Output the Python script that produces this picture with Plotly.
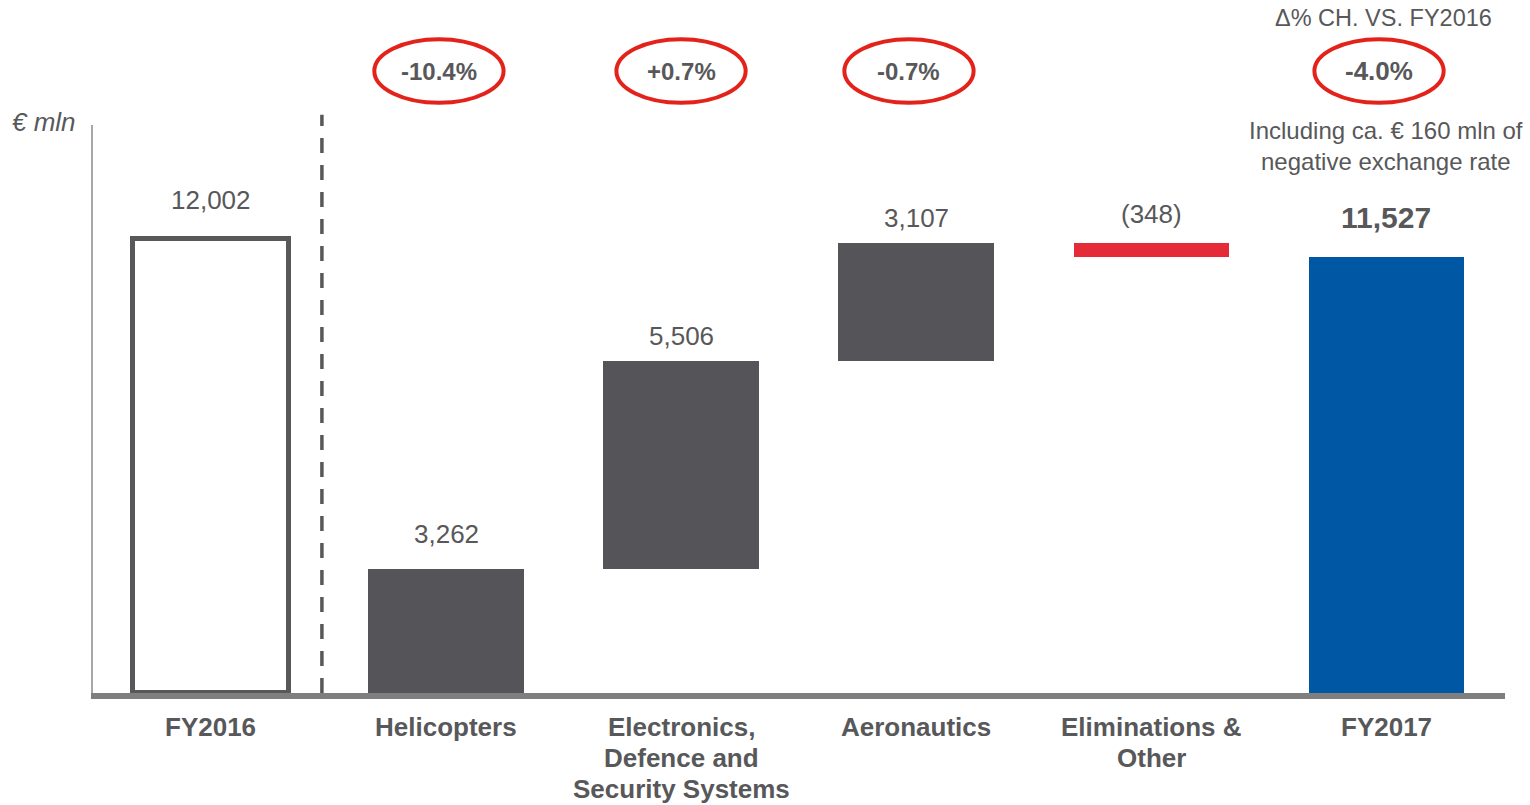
import plotly.graph_objects as go

# ---- data ----
categories = ["FY2016", "Helicopters", "Electronics,<br>Defence and<br>Security Systems",
              "Aeronautics", "Eliminations &<br>Other", "FY2017"]
values = [12002, 3262, 5506, 3107, -348, 11527]
value_labels = ["12,002", "3,262", "5,506", "3,107", "(348)", "11,527"]
is_total = [True, False, False, False, False, True]
pct_labels = ["-10.4%", "+0.7%", "-0.7%", "-4.0%"]
pct_categories = [1, 2, 3, 5]
header_text = "Δ% CH. VS. FY2016"
note_text = "Including ca. € 160 mln of<br>negative exchange rate"
unit_text = "<i>€ mln</i>"

# ---- derived floating-bar geometry (segments build up from zero) ----
bases, heights, tops = [], [], []
running = 0
for v, tot in zip(values, is_total):
    if tot:
        bases.append(0); heights.append(v); tops.append(v)
    elif v >= 0:
        bases.append(running); heights.append(v); running += v; tops.append(running)
    else:
        tops.append(running); running += v
        bases.append(running); heights.append(-v)

# ---- styles ----
TXT = "#58585A"
fill_colors = ["#FFFFFF", "#545459", "#545459", "#545459", "#E52B38", "#0057A4"]
line_colors = ["#58585A", "#545459", "#545459", "#545459", "#E52B38", "#0057A4"]
line_widths = [5, 0, 0, 0, 0, 0]
label_shift = [39, 35, 25, 25, 29, 39]
label_size = [26, 26, 26, 26, 26, 30]
label_bold = [False, False, False, False, False, True]
ell_offset = {1: -0.03, 2: 0.0, 3: -0.03, 5: -0.03}
FONT = "Liberation Sans, Arial, sans-serif"

xs = list(range(len(categories)))

fig = go.Figure()
fig.add_trace(go.Bar(
    x=xs, y=heights, base=bases, width=0.66,
    marker=dict(color=fill_colors, line=dict(color=line_colors, width=line_widths)),
    hoverinfo="skip", showlegend=False,
))

annotations = []
for i, (t, lab) in enumerate(zip(tops, value_labels)):
    annotations.append(dict(
        x=i, y=t, xref="x", yref="y", text=f"<b>{lab}</b>" if label_bold[i] else lab,
        showarrow=False, yanchor="middle", yshift=label_shift[i],
        font=dict(size=label_size[i], color=TXT, family=FONT)))

# category labels (one text per line for tight line spacing)
for i, cat in enumerate(categories):
    for k, line in enumerate(cat.split("<br>")):
        annotations.append(dict(
            x=i, y=0, xref="x", yref="paper", text=f"<b>{line}</b>", showarrow=False,
            yanchor="middle", yshift=-(34 + 31 * k),
            font=dict(size=26, color=TXT, family=FONT)))

shapes = []
ell_y_center = 1.095
for c, p in zip(pct_categories, pct_labels):
    cx = c + ell_offset[c]
    shapes.append(dict(type="circle", xref="x", yref="paper",
                       x0=cx - 0.275, x1=cx + 0.275, y0=ell_y_center - 0.056, y1=ell_y_center + 0.056,
                       line=dict(color="#E3231B", width=4), fillcolor="rgba(0,0,0,0)", layer="above"))
    annotations.append(dict(x=cx, y=ell_y_center, xref="x", yref="paper", text=f"<b>{p}</b>",
                            showarrow=False, yanchor="middle",
                            font=dict(size=26 if c == 5 else 24, color=TXT, family=FONT)))

# dashed separator
shapes.append(dict(type="line", xref="x", yref="paper", x0=0.472, x1=0.472, y0=0, y1=1.018,
                   line=dict(color="#58585A", width=3.5, dash="15px,12px"), layer="above"))

annotations.append(dict(x=4.99, y=1.188, xref="x", yref="paper", text=header_text, showarrow=False,
                        yanchor="middle", font=dict(size=23.5, color=TXT, family=FONT)))
annotations.append(dict(x=5.0, y=0.963, xref="x", yref="paper", text=note_text, showarrow=False,
                        yanchor="middle", font=dict(size=24, color=TXT, family=FONT)))
annotations.append(dict(x=-0.0347, y=1.005, xref="paper", yref="paper", text=unit_text, showarrow=False,
                        yanchor="middle", xanchor="center", font=dict(size=26, color=TXT, family=FONT)))

fig.update_layout(
    width=1530, height=805,
    margin=dict(l=93, r=25, t=125, b=112, autoexpand=False),
    paper_bgcolor="white", plot_bgcolor="white",
    bargap=0, showlegend=False,
    annotations=annotations, shapes=shapes,
    xaxis=dict(tickmode="array", tickvals=xs, showticklabels=False, range=[-0.502, 5.506],
               showgrid=False, zeroline=False, showline=True, linecolor="#7F7F7F", linewidth=6,
               ticks="", automargin=False),
    yaxis=dict(range=[0, 15000], showgrid=False, zeroline=False, showticklabels=False,
               showline=True, linecolor="#A6A6A6", linewidth=1.5, ticks="", automargin=False),
    font=dict(family=FONT, color=TXT),
)

fig.write_html("out.html")
